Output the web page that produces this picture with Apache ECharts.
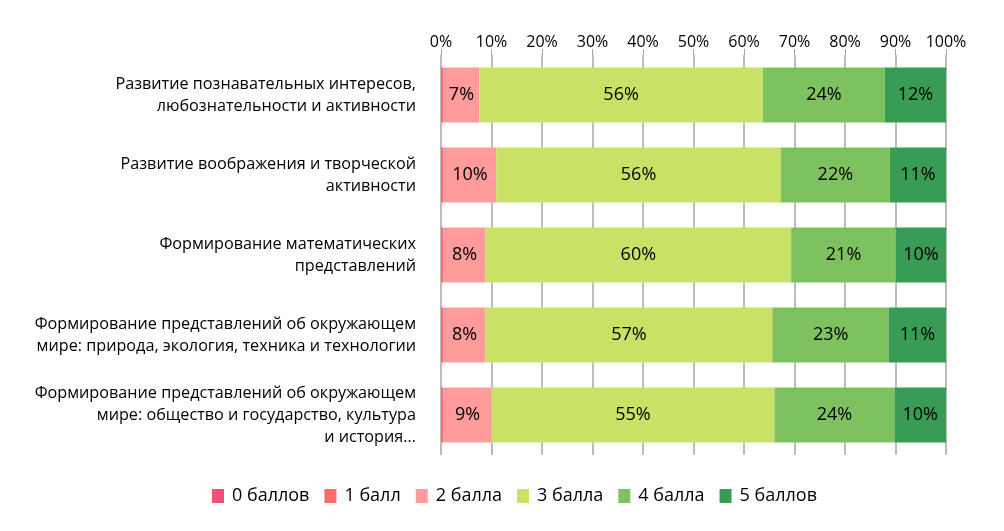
<!DOCTYPE html>
<html><head><meta charset="utf-8">
<script src="https://cdn.jsdelivr.net/npm/echarts@6/dist/echarts.min.js"></script>
<style>html,body{margin:0;padding:0;background:#fff}#c{width:1004px;height:531px}</style>
</head><body><div id="c"></div>
<script>
const categories = [
  "Развитие познавательных интересов,\nлюбознательности и активности",
  "Развитие воображения и творческой\nактивности",
  "Формирование математических\nпредставлений",
  "Формирование представлений об окружающем\nмире: природа, экология, техника и технологии",
  "Формирование представлений об окружающем\nмире: общество и государство, культура\nи история..."
];
const seriesNames = ["0 баллов", "1 балл", "2 балла", "3 балла", "4 балла", "5 баллов"];
const score0 = [0, 0, 0, 0, 0];
const score1 = [0.5, 0.5, 0.5, 0.5, 0.5];
const score2 = [7.1, 10.45, 8.3, 8.3, 9.4];
const score3 = [56.2, 56.3, 60.4, 56.8, 55.4];
const score4 = [24.2, 21.6, 20.7, 23.1, 23.5];
const score5 = [12.1, 11.1, 9.9, 11.3, 10.1];
const tickLabels = ["0%","10%","20%","30%","40%","50%","60%","70%","80%","90%","100%"];
const colors = ["#F0507C", "#FF6B6B", "#FF9B9B", "#C9E265", "#7DC25E", "#389C56"];

const raw = [score0, score1, score2, score3, score4, score5];
const totals = categories.map((_, i) => raw.reduce((s, a) => s + a[i], 0));
const FONT = "Open Sans";

const series = raw.map((arr, k) => ({
  name: seriesNames[k],
  type: 'bar',
  stack: 'all',
  barWidth: 55,
  itemStyle: { color: colors[k] },
  label: {
    show: k >= 2,
    position: 'inside',
    color: '#000',
    fontFamily: FONT,
    fontSize: 18,
    formatter: p => Math.round(arr[p.dataIndex]) + '%'
  },
  data: arr.map((v, i) => v / totals[i] * 100)
}));

const chart = echarts.init(document.getElementById('c'));
chart.setOption({
  animation: false,
  color: colors,
  grid: { left: 441, right: 58, top: 55, bottom: 76, containLabel: false },
  xAxis: {
    type: 'value', position: 'top', min: 0, max: 100, interval: 10,
    axisLine: { show: false },
    axisTick: { show: true, length: 6, lineStyle: { color: '#A6A6A6' } },
    splitLine: { show: true, lineStyle: { color: '#A6A6A6', width: 1.5 } },
    axisLabel: { color: '#000', fontFamily: FONT, fontSize: 16, margin: 5,
      formatter: v => tickLabels[Math.round(v / 10)] }
  },
  yAxis: {
    type: 'category', inverse: true, data: categories,
    axisLine: { show: false }, axisTick: { show: false },
    axisLabel: { color: '#000', fontFamily: FONT, fontSize: 16.2, lineHeight: 22, margin: 25, align: 'right' }
  },
  legend: {
    top: 482, left: 207, itemWidth: 12, itemHeight: 14, itemGap: 15,
    icon: 'rect',
    textStyle: { color: '#000', fontFamily: FONT, fontSize: 18, padding: [0,0,0,3] },
    data: seriesNames
  },
  series
});
</script></body></html>
